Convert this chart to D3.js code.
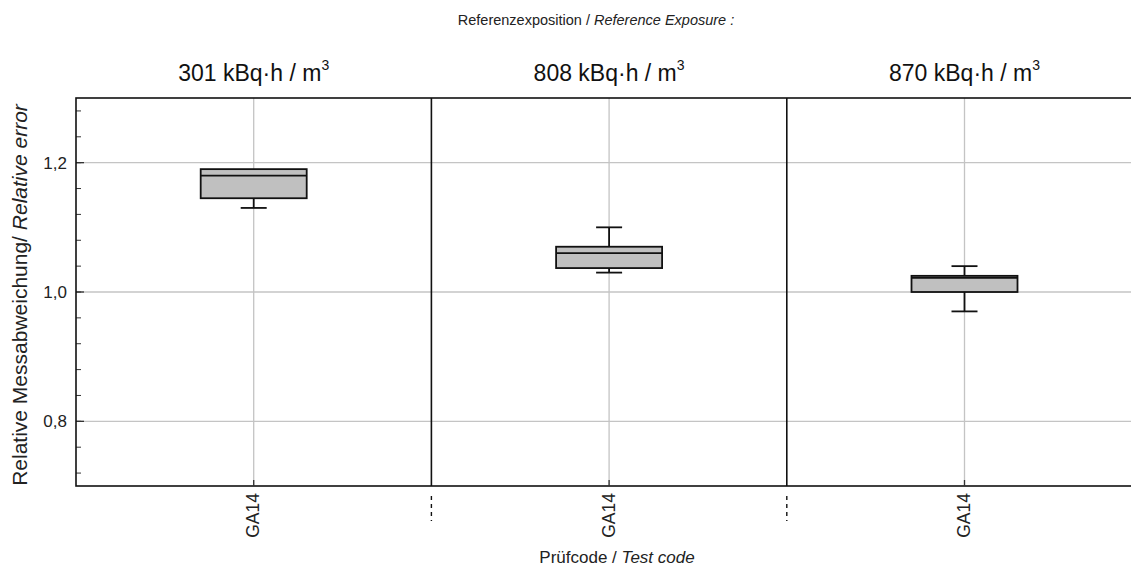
<!DOCTYPE html>
<html>
<head>
<meta charset="utf-8">
<script src="https://cdn.jsdelivr.net/npm/d3@7/dist/d3.min.js"></script>
<style>
  html, body { margin: 0; padding: 0; background: #fff; }
  svg { display: block; font-family: Arial, "Liberation Sans", sans-serif; }
</style>
</head>
<body>
<svg id="chart" width="1131" height="568"></svg>
<script>
// Reference exposures (one panel each) and test codes
const exposures = [301, 808, 870];
const codes = ["GA14", "GA14", "GA14"];

// Box plot statistics of the relative error per exposure
const whiskerLow  = [1.13, 1.03, 0.97];
const q1          = [1.145, 1.037, 1.0];
const median      = [1.18, 1.06, 1.022];
const q3          = [1.19, 1.07, 1.025];
const whiskerHigh = [1.19, 1.10, 1.04];

const yMajorTicks = [0.8, 1.0, 1.2];

const svg = d3.select("#chart");
const plotLeft = 76, plotTop = 98, plotBottom = 486, panelW = 355.4;
const plotRight = plotLeft + panelW * exposures.length;

const x = d3.scaleBand()
  .domain(d3.range(exposures.length))
  .range([plotLeft, plotRight]);

const y = d3.scaleLinear().domain([0.7, 1.3]).range([plotBottom, plotTop]);

const fmt = v => d3.format(".1f")(v).replace(".", ",");

// grid lines
const grid = svg.append("g").attr("stroke", "#c4c4c4").attr("stroke-width", 1.3);
yMajorTicks.forEach(v => {
  grid.append("line").attr("x1", plotLeft).attr("x2", plotRight)
    .attr("y1", y(v)).attr("y2", y(v));
});
exposures.forEach((e, i) => {
  const cx = x(i) + x.bandwidth() / 2;
  grid.append("line").attr("x1", cx).attr("x2", cx)
    .attr("y1", plotTop).attr("y2", plotBottom);
});

// y axis labels
const yAxis = svg.append("g").attr("transform", `translate(${plotLeft},0)`)
  .call(d3.axisLeft(y).tickValues(yMajorTicks).tickFormat(fmt).tickSize(0).tickPadding(9));
yAxis.select(".domain").remove();
yAxis.selectAll("text").attr("font-size", 17).attr("fill", "#222")
  .attr("font-family", "Arial, 'Liberation Sans', sans-serif");

// inward tick marks
const minor = d3.range(0.72, 1.29, 0.04);
svg.append("g").selectAll("line").data(minor).join("line")
  .attr("x1", plotLeft).attr("x2", plotLeft + 5)
  .attr("y1", d => y(d)).attr("y2", d => y(d))
  .attr("stroke", "#333").attr("stroke-width", 1);
svg.append("g").selectAll("line").data(yMajorTicks).join("line")
  .attr("x1", plotLeft).attr("x2", plotLeft + 8)
  .attr("y1", d => y(d)).attr("y2", d => y(d))
  .attr("stroke", "#333").attr("stroke-width", 1.3);

// boxes
const boxW = 106, capW = 26;
exposures.forEach((e, i) => {
  const cx = x(i) + x.bandwidth() / 2;
  const g = svg.append("g").attr("stroke", "#111").attr("stroke-width", 1.8);
  g.append("line").attr("x1", cx).attr("x2", cx)
    .attr("y1", y(whiskerLow[i])).attr("y2", y(q1[i]));
  g.append("line").attr("x1", cx).attr("x2", cx)
    .attr("y1", y(q3[i])).attr("y2", y(whiskerHigh[i]));
  g.append("line").attr("x1", cx - capW / 2).attr("x2", cx + capW / 2)
    .attr("y1", y(whiskerLow[i])).attr("y2", y(whiskerLow[i]));
  if (whiskerHigh[i] > q3[i]) {
    g.append("line").attr("x1", cx - capW / 2).attr("x2", cx + capW / 2)
      .attr("y1", y(whiskerHigh[i])).attr("y2", y(whiskerHigh[i]));
  }
  g.append("rect").attr("x", cx - boxW / 2).attr("width", boxW)
    .attr("y", y(q3[i])).attr("height", y(q1[i]) - y(q3[i]))
    .attr("fill", "#c0c0c0");
  g.append("line").attr("x1", cx - boxW / 2).attr("x2", cx + boxW / 2)
    .attr("y1", y(median[i])).attr("y2", y(median[i]));
});

// frame and panel dividers
const frame = svg.append("g").attr("stroke", "#111").attr("stroke-width", 1.6).attr("fill", "none");
frame.append("rect").attr("x", plotLeft).attr("y", plotTop)
  .attr("width", plotRight - plotLeft).attr("height", plotBottom - plotTop);
exposures.slice(1).forEach((e, i) => {
  const xv = x(i + 1);
  frame.append("line").attr("x1", xv).attr("x2", xv).attr("y1", plotTop).attr("y2", plotBottom);
  frame.append("line").attr("x1", xv).attr("x2", xv).attr("y1", 496).attr("y2", 521)
    .attr("stroke-width", 1.4).attr("stroke-dasharray", "4,4");
});

// x tick marks and labels
exposures.forEach((e, i) => {
  const cx = x(i) + x.bandwidth() / 2;
  svg.append("line").attr("x1", cx).attr("x2", cx).attr("y1", plotBottom - 6).attr("y2", plotBottom)
    .attr("stroke", "#333").attr("stroke-width", 1.3);
  svg.append("text")
    .attr("transform", `translate(${cx + 5.5},493) rotate(-90)`)
    .attr("text-anchor", "end").attr("font-size", 17.5).attr("fill", "#222")
    .text(codes[i]);
});

// panel titles
exposures.forEach((e, i) => {
  const cx = x(i) + x.bandwidth() / 2;
  const t = svg.append("text").attr("x", cx).attr("y", 81)
    .attr("text-anchor", "middle").attr("font-size", 23).attr("fill", "#111");
  t.append("tspan").text(`${e} kBq\u00b7h / m`);
  t.append("tspan").attr("dy", -11).attr("font-size", 14).text("3");
});

// headline
const head = svg.append("text").attr("x", 596).attr("y", 25)
  .attr("text-anchor", "middle").attr("font-size", 14.5).attr("fill", "#222");
head.append("tspan").text("Referenzexposition / ");
head.append("tspan").attr("font-style", "italic").text("Reference Exposure :");

// x axis title
const xt = svg.append("text").attr("x", 617).attr("y", 563)
  .attr("text-anchor", "middle").attr("font-size", 17).attr("fill", "#222");
xt.append("tspan").text("Prüfcode / ");
xt.append("tspan").attr("font-style", "italic").text("Test code");

// y axis title
const yt = svg.append("text")
  .attr("transform", "translate(27,295) rotate(-90)")
  .attr("text-anchor", "middle").attr("font-size", 21).attr("fill", "#222");
yt.append("tspan").text("Relative Messabweichung/ ");
yt.append("tspan").attr("font-style", "italic").text("Relative error");
</script>
</body>
</html>
